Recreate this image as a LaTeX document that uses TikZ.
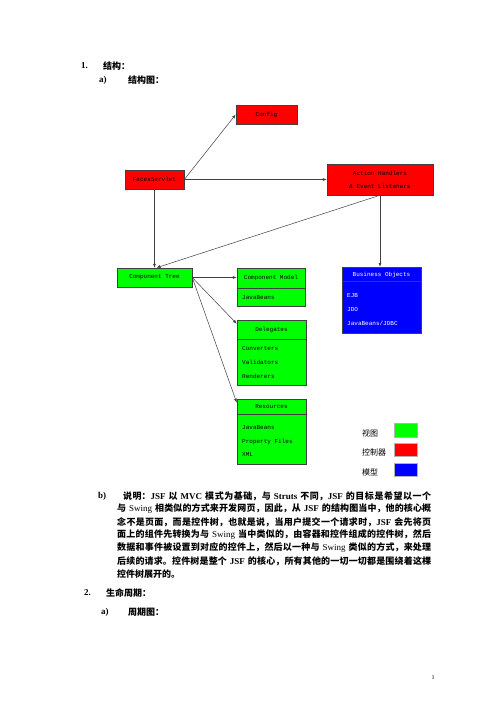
\documentclass[tikz,border=0pt]{standalone}
\usepackage{fontspec}
\setmainfont{Liberation Serif}
\newfontfamily\cjk{Noto Sans CJK SC}
\newfontfamily\mono{Liberation Mono}
\usetikzlibrary{arrows.meta}
\XeTeXlinebreaklocale "zh"
\XeTeXlinebreakskip=0pt plus 1fil minus 1pt
\newcommand\Z[1]{{\cjk #1}}
\newcommand\jline[1]{\noindent\parfillskip=0pt\relax #1\par}
\definecolor{bred}{RGB}{255,0,0}
\definecolor{bgreen}{RGB}{0,255,0}
\definecolor{bblue}{RGB}{0,0,255}
\tikzset{
  box/.style={draw=black!75, line width=0.5pt, inner sep=0pt, font=\mono\fontsize{6}{7}\selectfont},
  lbl/.style={inner sep=0pt, font=\mono\fontsize{6}{7}\selectfont},
  divider/.style={draw=black!75, line width=0.5pt},
  conn/.style={draw=black!75, line width=0.5pt, -{Latex[length=4pt,width=3pt]}},
  hd/.style={inner sep=0pt, anchor=west, font=\bfseries\fontsize{9}{11}\selectfont},
  para/.style={inner sep=0pt, anchor=west, font=\bfseries\fontsize{9}{13}\selectfont},
  leg/.style={inner sep=0pt, anchor=west, font=\cjk\fontsize{8}{10}\selectfont},
  swatch/.style={draw=black!30, line width=0.3pt, minimum width=23pt, inner sep=0pt}
}
\begin{document}
\begin{tikzpicture}[x=1pt,y=-1pt]
\useasboundingbox[fill=white] (0,0) rectangle (496,702);

% headings
\node[hd] (h1n) at (81,66) {1.};
\node[hd] (h1t) at (103,66) {\Z{结构：}};
\node[hd] (h1an) at (99,80) {a)};
\node[hd] (h1at) at (128,80) {\Z{结构图：}};

% diagram boxes
\node[box, fill=bred, minimum width=61pt, minimum height=19pt] (config) at (266.5,114.5) {Config};
\node[box, fill=bred, minimum width=59pt, minimum height=19pt] (faces) at (154.5,179.5) {FacesServlet};
\node[box, fill=bred, minimum width=106pt, minimum height=31pt, align=center,
      font=\mono\fontsize{6}{13}\selectfont] (action) at (380,179.5) {Action Handlers\\\& Event Listeners};
\node[box, fill=bgreen, minimum width=75pt, minimum height=19pt] (ctree) at (154.5,277.5) {Component Tree};

\node[box, fill=bgreen, minimum width=68pt, minimum height=38pt] (cmodel) at (271,287) {};
\draw[divider] (237,288) -- (305,288);
\node[lbl] (cmodelh) at (271,278) {Component Model};
\node[lbl, anchor=west] (cmodel1) at (242,298) {JavaBeans};

\node[box, fill=bblue, minimum width=79pt, minimum height=66pt] (bo) at (381.5,300) {};
\draw[divider] (342,281) -- (421,281);
\node[lbl, text=white] (boh) at (381.5,274.5) {Business Objects};
\node[lbl, text=white, anchor=west] (bo1) at (347,296) {EJB};
\node[lbl, text=white, anchor=west] (bo2) at (347,310) {JDO};
\node[lbl, text=white, anchor=west] (bo3) at (347,323) {JavaBeans/JDBC};

\node[box, fill=bgreen, minimum width=69pt, minimum height=65pt] (deleg) at (271.5,352.5) {};
\draw[divider] (237,339) -- (306,339);
\node[lbl] (delegh) at (271.5,330) {Delegates};
\node[lbl, anchor=west] (deleg1) at (242,349) {Converters};
\node[lbl, anchor=west] (deleg2) at (242,362) {Validators};
\node[lbl, anchor=west] (deleg3) at (242,376) {Renderers};

\node[box, fill=bgreen, minimum width=69pt, minimum height=65pt] (res) at (271.5,431.5) {};
\draw[divider] (237,414) -- (306,414);
\node[lbl] (resh) at (271.5,407) {Resources};
\node[lbl, anchor=west] (res1) at (242,428) {JavaBeans};
\node[lbl, anchor=west] (res2) at (242,442) {Property Files};
\node[lbl, anchor=west] (res3) at (242,455) {XML};

% connectors
\draw[conn] (faces.east) -- (config.west);
\draw[conn] (faces.east) -- (action.west);
\draw[conn] (faces.south) -- (ctree.north);
\draw[conn] (action.south) -- ([xshift=2pt]ctree.north);
\draw[conn] (action.south) -- (action.south |- bo.north);
\draw[conn] (ctree.east) -- (ctree.east -| cmodel.west);
\draw[conn] (ctree.east) -- ([yshift=-4pt]deleg.north west);
\draw[conn] (ctree.east) -- ([yshift=-4pt]res.north west);

% legend
\node[leg] (lv) at (362,433) {视图};
\node[swatch, fill=bgreen, minimum height=14pt] (sv) at (405.5,430) {};
\node[leg] (lc) at (362,452) {控制器};
\node[swatch, fill=bred, minimum height=13pt] (sc) at (405.5,449.5) {};
\node[leg] (lm) at (362,472) {模型};
\node[swatch, fill=bblue, minimum height=13pt] (sm) at (405.5,469.5) {};

% paragraph b)
\node[para] (pb) at (98,496) {b)};
\node[para, text width=308pt] (p1) at (123,496) {\jline{\Z{说明：}JSF \Z{以} MVC \Z{模式为基础，与} Struts \Z{不同，}JSF \Z{的目标是希望以一个}}};
\node[para, text width=314pt] (p2) at (117,509) {\jline{\Z{与} \textmd{Swing} \Z{相类似的方式来开发网页，因此，从} JSF \Z{的结构图当中，他的核心概}}};
\node[para, text width=314pt] (p3) at (117,522) {\jline{\Z{念不是页面，而是控件树，也就是说，当用户提交一个请求时，}JSF \Z{会先将页}}};
\node[para, text width=314pt] (p4) at (117,535) {\jline{\Z{面上的组件先转换为与} \textmd{Swing} \Z{当中类似的，由容器和控件组成的控件树，然后}}};
\node[para, text width=314pt] (p5) at (117,548) {\jline{\Z{数据和事件被设置到对应的控件上，然后以一种与} \textmd{Swing} \Z{类似的方式，来处理}}};
\node[para, text width=314pt] (p6) at (117,561) {\jline{\Z{后续的请求。控件树是整个} JSF \Z{的核心，所有其他的一切一切都是围绕着这棵}}};
\node[para] (p7) at (117,574) {\Z{控件树展开的。}};

% section 2
\node[hd] (h2n) at (84,593) {2.};
\node[hd] (h2t) at (106,593) {\Z{生命周期：}};
\node[hd] (h2an) at (101,612) {a)};
\node[hd] (h2at) at (128,612) {\Z{周期图：}};

% page number
\node[inner sep=0pt, font=\fontsize{6}{7}\selectfont] (pg) at (433,678) {1};
\end{tikzpicture}
\end{document}
